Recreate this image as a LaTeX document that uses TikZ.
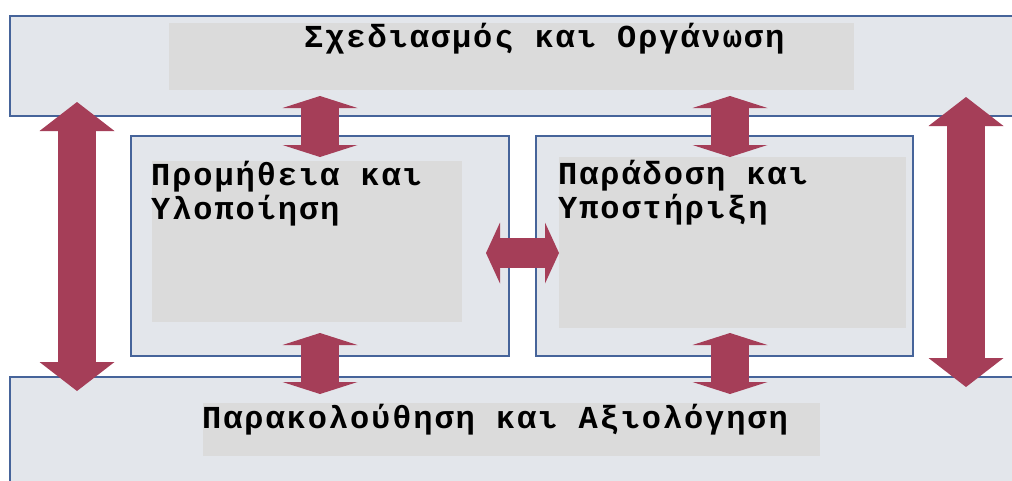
\documentclass[tikz,border=0pt]{standalone}
\usepackage{fontspec}
\usetikzlibrary{arrows.meta,calc}
\newfontfamily\grmono[LetterSpace=6]{Liberation Mono}
\definecolor{boxfill}{HTML}{E3E6EB}
\definecolor{boxline}{HTML}{46649A}
\definecolor{innergrey}{HTML}{DBDBDB}
\definecolor{arrowred}{HTML}{A53E58}

\begin{document}
\begin{tikzpicture}[x=1pt,y=-1pt,
  stagebox/.style={draw=boxline,fill=boxfill,line width=1.8pt,rectangle,
    anchor=north west,inner sep=0pt,outer sep=0pt},
  greypanel/.style={fill=innergrey,rectangle,anchor=north west,
    inner sep=0pt,outer sep=0pt},
  stagetext/.style={anchor=base west,inner sep=0pt,align=left,
    font=\grmono\bfseries\fontsize{32}{34}\selectfont},
  tallarrow/.style={draw=arrowred,line width=38pt,
    arrows={Triangle[width=75pt,length=29pt,line width=0pt]-Triangle[width=75pt,length=29pt,line width=0pt]}},
  shortarrow/.style={draw=arrowred,line width=38pt,
    arrows={Triangle[width=75pt,length=12pt,line width=0pt]-Triangle[width=75pt,length=12pt,line width=0pt]}},
  sidearrow/.style={draw=arrowred,line width=30pt,
    arrows={Triangle[width=61pt,length=14pt,line width=0pt]-Triangle[width=61pt,length=14pt,line width=0pt]}}
]
\useasboundingbox (0,0) rectangle (1012,480);
\clip (0,0) rectangle (1012,480);
\fill[white] (0,0) rectangle (1012,480);

% the four stages
\node[stagebox,minimum width=1030pt,minimum height=100pt] (plan) at (10,16) {};
\node[stagebox,minimum width=1030pt,minimum height=130pt] (monitor) at (10,377) {};
\node[stagebox,minimum width=378pt,minimum height=220pt] (impl) at (131,136) {};
\node[stagebox,minimum width=377pt,minimum height=220pt] (deliv) at (536,136) {};

% grey text panels
\node[greypanel,minimum width=685pt,minimum height=67pt] (planin) at (169,23) {};
\node[greypanel,minimum width=617pt,minimum height=53pt] (monin) at (203,403) {};
\node[greypanel,minimum width=310pt,minimum height=161pt] (implin) at (152,161) {};
\node[greypanel,minimum width=347pt,minimum height=171pt] (delivin) at (559,157) {};

% labels
\node[stagetext] (plantxt) at (304,47) {Σχεδιασμός και Οργάνωση};
\node[stagetext] (impltxt) at (151,219) {Προμήθεια και\\Υλοποίηση};
\node[stagetext] (delivtxt) at (558,218) {Παράδοση και\\Υποστήριξη};
\node[stagetext] (montxt) at (202,428) {Παρακολούθηση και Αξιολόγηση};

% two-way flows
\draw[tallarrow] ($(plan.south west)+(67,-14)$) -- ($(monitor.north west)+(67,14)$);
\draw[tallarrow] ($(plan.south west)+(956,-19)$) -- ($(monitor.north west)+(956,10)$);
\draw[shortarrow] ($(plan.south -| impl.north)+(0,-20)$) -- ($(impl.north)+(0,21)$);
\draw[shortarrow] ($(plan.south -| deliv.north)+(5.5,-20)$) -- ($(deliv.north)+(5.5,21)$);
\draw[shortarrow] ($(impl.south)+(0,-23)$) -- ($(monitor.north -| impl.south)+(0,17)$);
\draw[shortarrow] ($(deliv.south)+(5.5,-23)$) -- ($(monitor.north -| deliv.south)+(5.5,17)$);
\draw[sidearrow] ($(impl.east)+(-23,7)$) -- ($(deliv.west)+(23,7)$);
\end{tikzpicture}
\end{document}
